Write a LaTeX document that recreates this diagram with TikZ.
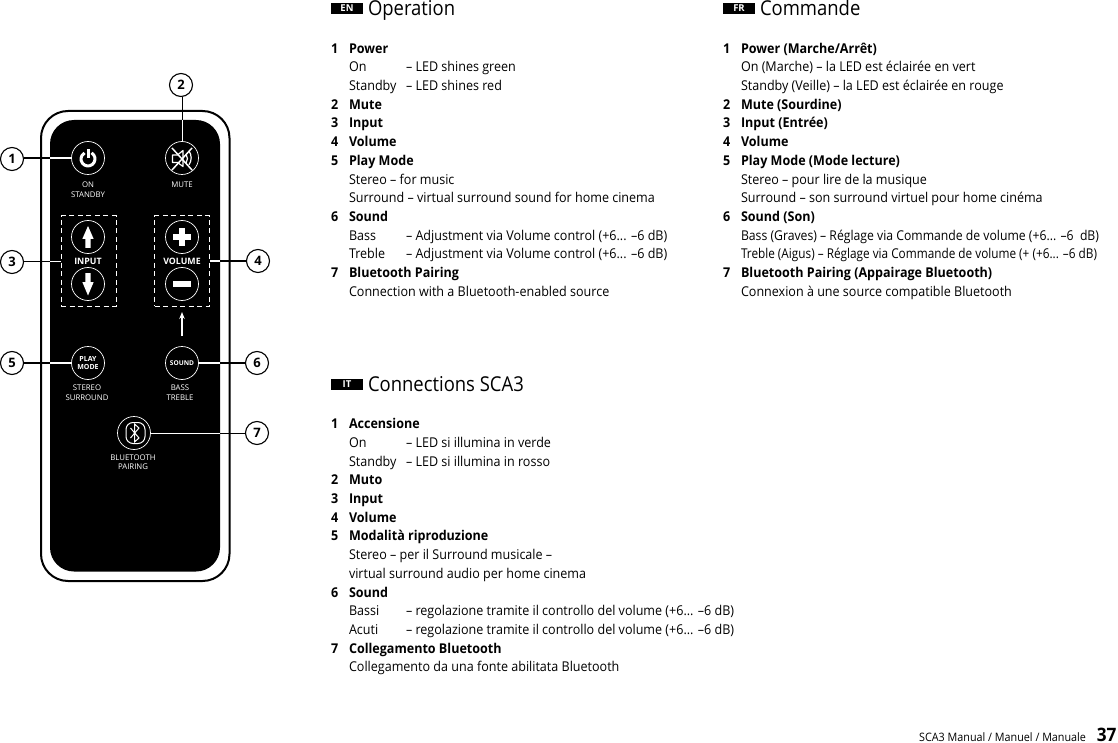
\documentclass[tikz,border=0pt]{standalone}
\usepackage{fontspec}
\usetikzlibrary{arrows.meta}
\setmainfont[FakeStretch=0.93]{Open Sans}
\setsansfont{Open Sans}
\newfontfamily\hdf[FakeStretch=0.9]{Open Sans}
\newcounter{tlc}
\newcommand{\tl}[3]{\stepcounter{tlc}\node[txt] (t\thetlc) at ({#1},{#2}) {#3};}
\tikzset{
  x=1pt,y=-1pt,
  txt/.style={anchor=base west,inner sep=0pt,outer sep=0pt,font=\fontsize{13.5}{13.5}\selectfont,text=black},
  tagbox/.style={fill=black,text=white,inner sep=0pt,minimum height=11pt,font=\sffamily\bfseries\fontsize{9.5}{9.5}\selectfont},
  heading/.style={txt,font=\hdf\fontsize{20.5}{20.5}\selectfont},
  call/.style={circle,draw=black,line width=1.1pt,fill=white,minimum size=23pt,inner sep=0pt,font=\sffamily\bfseries\fontsize{13}{13}\selectfont},
  btn/.style={circle,draw=white,line width=0.7pt,minimum size=33pt,inner sep=0pt,text=white,align=center},
  lab/.style={text=white,align=center,inner sep=0pt,font=\sffamily\fontsize{7.8}{9.5}\selectfont},
  blab/.style={text=white,align=center,inner sep=0pt,font=\sffamily\bfseries\fontsize{8.8}{8.8}\selectfont},
  dbox/.style={draw=white,dashed,dash pattern=on 5pt off 3.5pt,line width=1pt,inner sep=0pt},
  blk/.style={draw=black,line width=1.1pt},
  wht/.style={draw=white,line width=1.1pt},
}
\begin{document}
\begin{tikzpicture}
\useasboundingbox (0,0) rectangle (1118,743);
% remote
\draw[black,line width=2pt,rounded corners=27pt] (41,111) rectangle (229.5,581);
\fill[black,rounded corners=24pt] (50,120) rectangle (220,571.5);
% buttons
\node[btn] (bpower) at (88,158) {};
\node[btn] (bmute) at (182,158) {};
\node[btn] (bup) at (88,237) {};
\node[btn] (bdown) at (88,284) {};
\node[btn] (bplus) at (182,237) {};
\node[btn] (bminus) at (182,284) {};
\node[btn,font=\sffamily\bfseries\fontsize{7}{7.8}\selectfont] (bplay) at (88,363) {PLAY\\MODE};
\node[btn,font=\sffamily\bfseries\fontsize{6.6}{7}\selectfont] (bsound) at (182,363) {SOUND};
\node[btn] (bbt) at (134,433) {};
% dashed boxes
\node[dbox,minimum width=55pt,minimum height=90pt] (dinput) at (88.5,261) {};
\node[dbox,minimum width=55pt,minimum height=90pt] (dvol) at (182,261) {};
% labels on remote
\node[lab] (lon) at (88,189.5) {ON\\STANDBY};
\node[lab] (lmute) at (182,185) {MUTE};
\node[blab,fill=black,inner xsep=3pt] (linput) at (88,261) {INPUT};
\node[blab,fill=black,inner xsep=3pt] (lvol) at (182,261) {VOLUME};
\node[lab] (lplay) at (87,392.5) {STEREO\\SURROUND};
\node[lab] (lsound) at (180,392.5) {BASS\\TREBLE};
\node[lab] (lbt) at (133,462) {BLUETOOTH\\PAIRING};
% icons
\draw[white,line width=3pt] (91.5,152.9) arc[start angle=60,end angle=-240,radius=7pt];
\draw[white,line width=3pt] (88,149.5) -- (88,158.5);
\fill[white] (88,226) -- (93.7,239) -- (90.6,239) -- (90.6,248) -- (85.4,248) -- (85.4,239) -- (82.3,239) -- cycle;
\fill[white] (88,295.5) -- (93.7,282) -- (90.6,282) -- (90.6,273) -- (85.4,273) -- (85.4,282) -- (82.3,282) -- cycle;
\fill[white] (179,228) rectangle (185,246);
\fill[white] (173,234) rectangle (191,240);
\fill[white] (173,281) rectangle (191,287);
\draw[white,line width=1.2pt,line join=round] (172.5,155) -- (177.5,155) -- (183,150.5) -- (183,166.5) -- (177.5,162.5) -- (172.5,162.5) -- cycle;
\draw[white,line width=1.2pt] (186,154) arc[start angle=35,end angle=-35,radius=8pt];
\draw[white,line width=1.2pt] (189,151) arc[start angle=35,end angle=-35,radius=12pt];
\draw[white,line width=1.5pt] (172,148) -- (192,170);
\draw[white,line width=1.5pt] (192,148) -- (172,170);
\draw[white,line width=1pt,rounded corners=7pt] (126,422.5) rectangle (145,443.5);
\draw[white,line width=1pt,line join=miter] (130.5,428) -- (139,438) -- (134.5,442) -- (134.5,424) -- (139,428) -- (130.5,438);
% callouts
\node[call] (c1) at (12,159) {1};
\node[call] (c2) at (181,85) {2};
\node[call] (c3) at (12,262) {3};
\node[call] (c4) at (258,261) {4};
\node[call] (c5) at (12,363) {5};
\node[call] (c6) at (257,363) {6};
\node[call] (c7) at (257,433) {7};
\coordinate (e1) at (50,158);
\coordinate (e2) at (182,120);
\coordinate (e3) at (50,261);
\coordinate (e4) at (220,261);
\coordinate (e5) at (50,363);
\coordinate (e6) at (220,363);
\coordinate (e7) at (220,433);
\coordinate (a0) at (182,336);
\coordinate (a1) at (182,312);
\draw[blk] (c1.east|-e1) -- (e1);
\draw[wht] (e1) -- (bpower.west);
\draw[blk,line width=0.8pt] (e2|-c2.south) -- (e2);
\draw[wht,line width=0.8pt] (e2) -- (bmute.north);
\draw[blk,line width=0.8pt] (c3.east|-e3) -- (e3);
\draw[wht,line width=0.8pt] (e3) -- (dinput.west);
\draw[blk] (c4.west|-e4) -- (e4);
\draw[wht] (e4) -- (dvol.east);
\draw[blk] (c5.east) -- (e5);
\draw[wht] (e5) -- (bplay.west);
\draw[blk] (c6.west) -- (e6);
\draw[wht] (e6) -- (bsound.east);
\draw[blk,line width=0.8pt] (c7.west) -- (e7);
\draw[wht,line width=0.8pt] (e7) -- (bbt.east);
\draw[wht,line width=1.1pt,-{Stealth[length=7pt,width=5.5pt]}] (a0) -- (a1);
% headings
\node[tagbox,minimum width=32pt] (tagen) at (347,8.5) {EN};
\node[heading] (hen) at (368,16) {Operation};
\node[tagbox,minimum width=32pt] (tagfr) at (739,8.5) {FR};
\node[heading] (hfr) at (760,16) {Commande};
\node[tagbox,minimum width=32pt] (tagit) at (347,384) {IT};
\node[heading] (hit) at (368,391) {Connections SCA3};
% EN
\def\ya{53.2}
\tl{331}{\ya}{\textbf{1}}\tl{349}{\ya}{\textbf{Power}}
\tl{349}{\ya+18.7}{On}\tl{406}{\ya+18.7}{– LED shines green}
\tl{349}{\ya+18.7*2}{Standby}\tl{406}{\ya+18.7*2}{– LED shines red}
\tl{331}{\ya+18.7*3}{\textbf{2}}\tl{349}{\ya+18.7*3}{\textbf{Mute}}
\tl{331}{\ya+18.7*4}{\textbf{3}}\tl{349}{\ya+18.7*4}{\textbf{Input}}
\tl{331}{\ya+18.7*5}{\textbf{4}}\tl{349}{\ya+18.7*5}{\textbf{Volume}}
\tl{331}{\ya+18.7*6}{\textbf{5}}\tl{349}{\ya+18.7*6}{\textbf{Play Mode}}
\tl{349}{\ya+18.7*7}{Stereo – for music}
\tl{349}{\ya+18.7*8}{Surround – virtual surround sound for home cinema}
\tl{331}{\ya+18.7*9}{\textbf{6}}\tl{349}{\ya+18.7*9}{\textbf{Sound}}
\tl{349}{\ya+18.7*10}{Bass}\tl{406}{\ya+18.7*10}{– Adjustment via Volume control (+6... –6 dB)}
\tl{349}{\ya+18.7*11}{Treble}\tl{406}{\ya+18.7*11}{– Adjustment via Volume control (+6... –6 dB)}
\tl{331}{\ya+18.7*12}{\textbf{7}}\tl{349}{\ya+18.7*12}{\textbf{Bluetooth Pairing}}
\tl{349}{\ya+18.7*13}{Connection with a Bluetooth-enabled source}
% FR
\tl{723}{\ya}{\textbf{1}}\tl{741}{\ya}{\textbf{Power (Marche/Arrêt)}}
\tl{741}{\ya+18.7}{On (Marche) – la LED est éclairée en vert}
\tl{741}{\ya+18.7*2}{Standby (Veille) – la LED est éclairée en rouge}
\tl{723}{\ya+18.7*3}{\textbf{2}}\tl{741}{\ya+18.7*3}{\textbf{Mute (Sourdine)}}
\tl{723}{\ya+18.7*4}{\textbf{3}}\tl{741}{\ya+18.7*4}{\textbf{Input (Entrée)}}
\tl{723}{\ya+18.7*5}{\textbf{4}}\tl{741}{\ya+18.7*5}{\textbf{Volume}}
\tl{723}{\ya+18.7*6}{\textbf{5}}\tl{741}{\ya+18.7*6}{\textbf{Play Mode (Mode lecture)}}
\tl{741}{\ya+18.7*7}{Stereo – pour lire de la musique}
\tl{741}{\ya+18.7*8}{Surround – son surround virtuel pour home cinéma}
\tl{723}{\ya+18.7*9}{\textbf{6}}\tl{741}{\ya+18.7*9}{\textbf{Sound (Son)}}
\tl{741}{\ya+18.7*10}{\resizebox{358pt}{\height}{Bass (Graves) – Réglage via Commande de volume (+6... –6~ dB)}}
\tl{741}{\ya+18.7*11}{\resizebox{356pt}{\height}{Treble (Aigus) – Réglage via Commande de volume (+ (+6... –6 dB)}}
\tl{723}{\ya+18.7*12}{\textbf{7}}\tl{741}{\ya+18.7*12}{\textbf{Bluetooth Pairing (Appairage Bluetooth)}}
\tl{741}{\ya+18.7*13}{Connexion à une source compatible Bluetooth}
% IT
\def\yb{428.7}
\tl{331}{\yb}{\textbf{1}}\tl{349}{\yb}{\textbf{Accensione}}
\tl{349}{\yb+18.7}{On}\tl{406}{\yb+18.7}{– LED si illumina in verde}
\tl{349}{\yb+18.7*2}{Standby}\tl{406}{\yb+18.7*2}{– LED si illumina in rosso}
\tl{331}{\yb+18.7*3}{\textbf{2}}\tl{349}{\yb+18.7*3}{\textbf{Muto}}
\tl{331}{\yb+18.7*4}{\textbf{3}}\tl{349}{\yb+18.7*4}{\textbf{Input}}
\tl{331}{\yb+18.7*5}{\textbf{4}}\tl{349}{\yb+18.7*5}{\textbf{Volume}}
\tl{331}{\yb+18.7*6}{\textbf{5}}\tl{349}{\yb+18.7*6}{\textbf{Modalità riproduzione}}
\tl{349}{\yb+18.7*7}{Stereo – per il Surround musicale –}
\tl{349}{\yb+18.7*8}{virtual surround audio per home cinema}
\tl{331}{\yb+18.7*9}{\textbf{6}}\tl{349}{\yb+18.7*9}{\textbf{Sound}}
\tl{349}{\yb+18.7*10}{Bassi}\tl{406}{\yb+18.7*10}{– regolazione tramite il controllo del volume (+6... –6 dB)}
\tl{349}{\yb+18.7*11}{Acuti}\tl{406}{\yb+18.7*11}{– regolazione tramite il controllo del volume (+6... –6 dB)}
\tl{331}{\yb+18.7*12}{\textbf{7}}\tl{349}{\yb+18.7*12}{\textbf{Collegamento Bluetooth}}
\tl{349}{\yb+18.7*13}{Collegamento da una fonte abilitata Bluetooth}
% footer
\node[txt,anchor=base east,font=\fontsize{11.6}{11.6}\selectfont] (foot) at (1086,741.5) {SCA3 Manual / Manuel / Manuale};
\node[txt,anchor=base east,font=\bfseries\fontsize{18.5}{18.5}\selectfont] (page) at (1116.5,741) {37};
\end{tikzpicture}
\end{document}
